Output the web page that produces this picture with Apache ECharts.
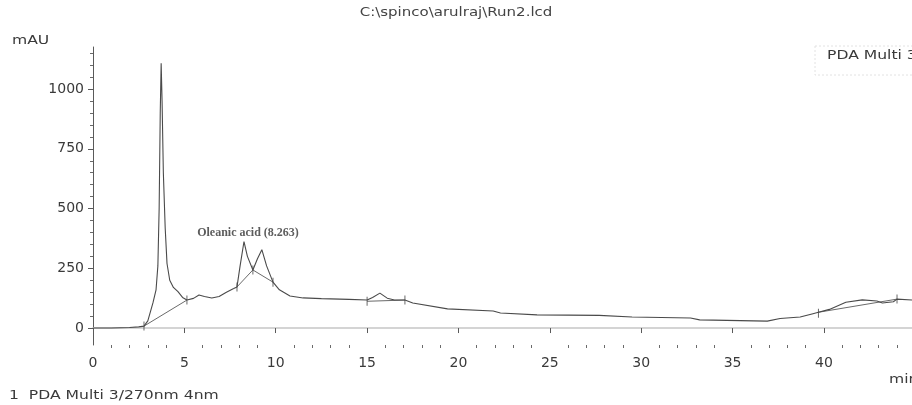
<!DOCTYPE html>
<html>
<head>
<meta charset="utf-8">
<script src="https://cdn.jsdelivr.net/npm/echarts@6/dist/echarts.min.js"></script>
<style>
  html, body { margin: 0; padding: 0; background: #fff; }
  #chart { width: 912px; height: 405px; }
</style>
</head>
<body>
<div id="chart"></div>
<script>
// PDA channel 3 (270 nm) chromatogram: retention time (min) vs absorbance (mAU)
const retentionTime = [
  0, 1, 2, 2.5, 2.79, 3.0, 3.28, 3.45, 3.55, 3.62, 3.68, 3.73, 3.78, 3.85, 3.95,
  4.05, 4.2, 4.4, 4.65, 4.9, 5.14, 5.5, 5.8, 6.1, 6.5, 6.9, 7.3, 7.7, 7.88, 8.05,
  8.263, 8.45, 8.75, 9.0, 9.24, 9.5, 9.85, 10.2, 10.78, 11.5, 12.5, 14.0, 15.0,
  15.3, 15.7, 16.1, 16.5, 17.07, 17.5, 19.4, 21.9, 22.3, 24.3, 27.7, 29.5, 32.7,
  33.2, 36.9, 37.6, 38.7, 39.4, 39.7, 40.3, 41.2, 42.1, 42.9, 43.2, 43.8, 44.0, 44.82
];
const absorbance = [
  0, 0, 2, 5, 8, 30, 105, 160, 260, 500, 900, 1108, 950, 650, 420,
  270, 200, 170, 152, 128, 117, 124, 138, 132, 126, 132, 150, 165, 172, 260,
  362, 300, 243, 290, 328, 260, 192, 160, 134, 126, 123, 120, 117,
  128, 146, 125, 117, 117, 105, 80, 71, 63, 55, 53, 46, 42,
  34, 29, 40, 46, 60, 66, 78, 108, 118, 113, 105, 110, 121, 117
];

// integration baselines: [startTime, startValue] -> [endTime, endValue]
const baselineStart = [[2.79, 8], [7.88, 172], [8.75, 243], [15.0, 112], [39.7, 66]];
const baselineEnd   = [[5.14, 117], [8.75, 243], [9.85, 192], [17.07, 117], [44.0, 121]];

// peak start / end marks
const markTimes  = [2.79, 5.14, 7.88, 8.75, 9.85, 15.0, 17.07, 39.7, 44.0];
const markValues = [8, 117, 172, 243, 192, 112, 117, 62, 121];

// identified peak
const peakNames   = ['Oleanic acid'];
const peakTimes   = [8.263];
const peakHeights = [362];

const yMajorTicks = [0, 250, 500, 750, 1000];
const yMinorTicks = [50, 100, 150, 200, 300, 350, 400, 450, 550, 600, 650, 700, 800, 850, 900, 950, 1050, 1100, 1150];
const xMinorTicks = [1, 2, 3, 4, 6, 7, 8, 9, 11, 12, 13, 14, 16, 17, 18, 19, 21, 22, 23, 24,
                     26, 27, 28, 29, 31, 32, 33, 34, 36, 37, 38, 39, 41, 42, 43, 44];

const titleText = 'C:\\spinco\\arulraj\\Run2.lcd';
const channelText = 'PDA Multi 3/270nm 4nm';
const footerText = '1  PDA Multi 3/270nm 4nm';

const traceData = retentionTime.map((t, i) => [t, absorbance[i]]);
const markData = markTimes.map((t, i) => [t, markValues[i]]);
const peakData = peakTimes.map((t, i) => ({ value: [t, peakHeights[i]], name: peakNames[i] }));

const FONT = 'DejaVu Sans';
const INK = '#4a4a4a';
const X_MIN = 0, X_MAX = 44.82, Y_MIN = -71, Y_MAX = 1176;

const baselineSeries = baselineStart.map((s, i) => ({
  type: 'line',
  data: [s, baselineEnd[i]],
  showSymbol: false,
  silent: true,
  lineStyle: { color: '#6a6a6a', width: 1 },
  z: 2
}));

const chart = echarts.init(document.getElementById('chart'), null, { renderer: 'canvas' });
chart.setOption({
  animation: false,
  backgroundColor: '#ffffff',
  grid: { left: 93, right: 0, top: 47, bottom: 60, containLabel: false, outerBoundsMode: 'none' },
  xAxis: [{
    type: 'value',
    min: X_MIN,
    max: X_MAX,
    interval: 5,
    axisLine: { show: true, lineStyle: { color: '#5a5a5a', width: 1 } },
    axisTick: { show: true, length: 5, lineStyle: { color: '#5a5a5a' } },
    axisLabel: { show: true, fontFamily: FONT, fontSize: 14, color: '#3a3a3a', margin: 11, showMaxLabel: false },
    splitLine: { show: false }
  }, {
    // top frame edge
    type: 'value',
    position: 'top',
    min: X_MIN,
    max: X_MAX,
    axisLine: { show: true, lineStyle: { color: '#d4d4d4', width: 2 } },
    axisTick: { show: false },
    axisLabel: { show: false },
    splitLine: { show: false }
  }, {
    // minor ticks along the time axis
    type: 'value',
    position: 'bottom',
    min: X_MIN,
    max: X_MAX,
    axisLine: { show: false },
    axisTick: { show: true, length: 3, customValues: xMinorTicks, lineStyle: { color: '#6a6a6a' } },
    axisLabel: { show: false },
    splitLine: { show: false }
  }],
  yAxis: [{
    type: 'value',
    min: Y_MIN,
    max: Y_MAX,
    axisLine: { show: true, lineStyle: { color: '#5a5a5a', width: 1 } },
    axisTick: { show: true, length: 5, customValues: yMajorTicks, lineStyle: { color: '#5a5a5a' } },
    axisLabel: {
      show: true, customValues: yMajorTicks, fontFamily: FONT, fontSize: 14, color: '#3a3a3a', margin: 9,
      formatter: v => String(v)
    },
    splitLine: { show: false }
  }, {
    type: 'value',
    min: Y_MIN,
    max: Y_MAX,
    position: 'left',
    axisLine: { show: false },
    axisTick: { show: true, length: 3, customValues: yMinorTicks, lineStyle: { color: '#6a6a6a' } },
    axisLabel: { show: false },
    splitLine: { show: false }
  }],
  series: [
    {
      type: 'line',
      data: traceData,
      showSymbol: false,
      silent: true,
      lineStyle: { color: INK, width: 1.1 },
      z: 3
    },
    ...baselineSeries,
    {
      type: 'scatter',
      data: markData,
      symbol: 'rect',
      symbolSize: [1, 9],
      itemStyle: { color: '#444' },
      silent: true,
      z: 4
    },
    {
      type: 'scatter',
      data: peakData,
      symbolSize: 0,
      silent: true,
      label: {
        show: true,
        position: 'top',
        distance: 3,
        offset: [4, 0],
        formatter: p => p.name + ' (' + p.value[0].toFixed(3) + ')',
        fontFamily: 'Liberation Serif',
        fontWeight: 'bold',
        fontSize: 12,
        color: '#333'
      },
      z: 5
    }
  ],
  graphic: [
    { type: 'text', left: 'center', top: 7, style: { text: titleText, font: '12px "DejaVu Sans"', fill: '#444' }, scaleX: 1.25 },
    { type: 'text', x: 12, y: 35, style: { text: 'mAU', font: '12px "DejaVu Sans"', fill: '#3a3a3a' }, scaleX: 1.3 },
    { type: 'text', x: 889, y: 374, style: { text: 'min', font: '12px "DejaVu Sans"', fill: '#3a3a3a' }, scaleX: 1.3 },
    { type: 'text', x: 9, y: 390, style: { text: footerText, font: '12px "DejaVu Sans"', fill: '#3a3a3a' }, scaleX: 1.3 },
    {
      type: 'rect', x: 815, y: 46, shape: { width: 120, height: 29 },
      style: { fill: '#ffffff', stroke: '#e2e2e2', lineWidth: 1, lineDash: [2, 2] }, z: 10
    },
    { type: 'text', x: 827, y: 50, style: { text: channelText, font: '12px "DejaVu Sans"', fill: '#3a3a3a' }, scaleX: 1.3, z: 11 }
  ]
});
</script>
</body>
</html>
